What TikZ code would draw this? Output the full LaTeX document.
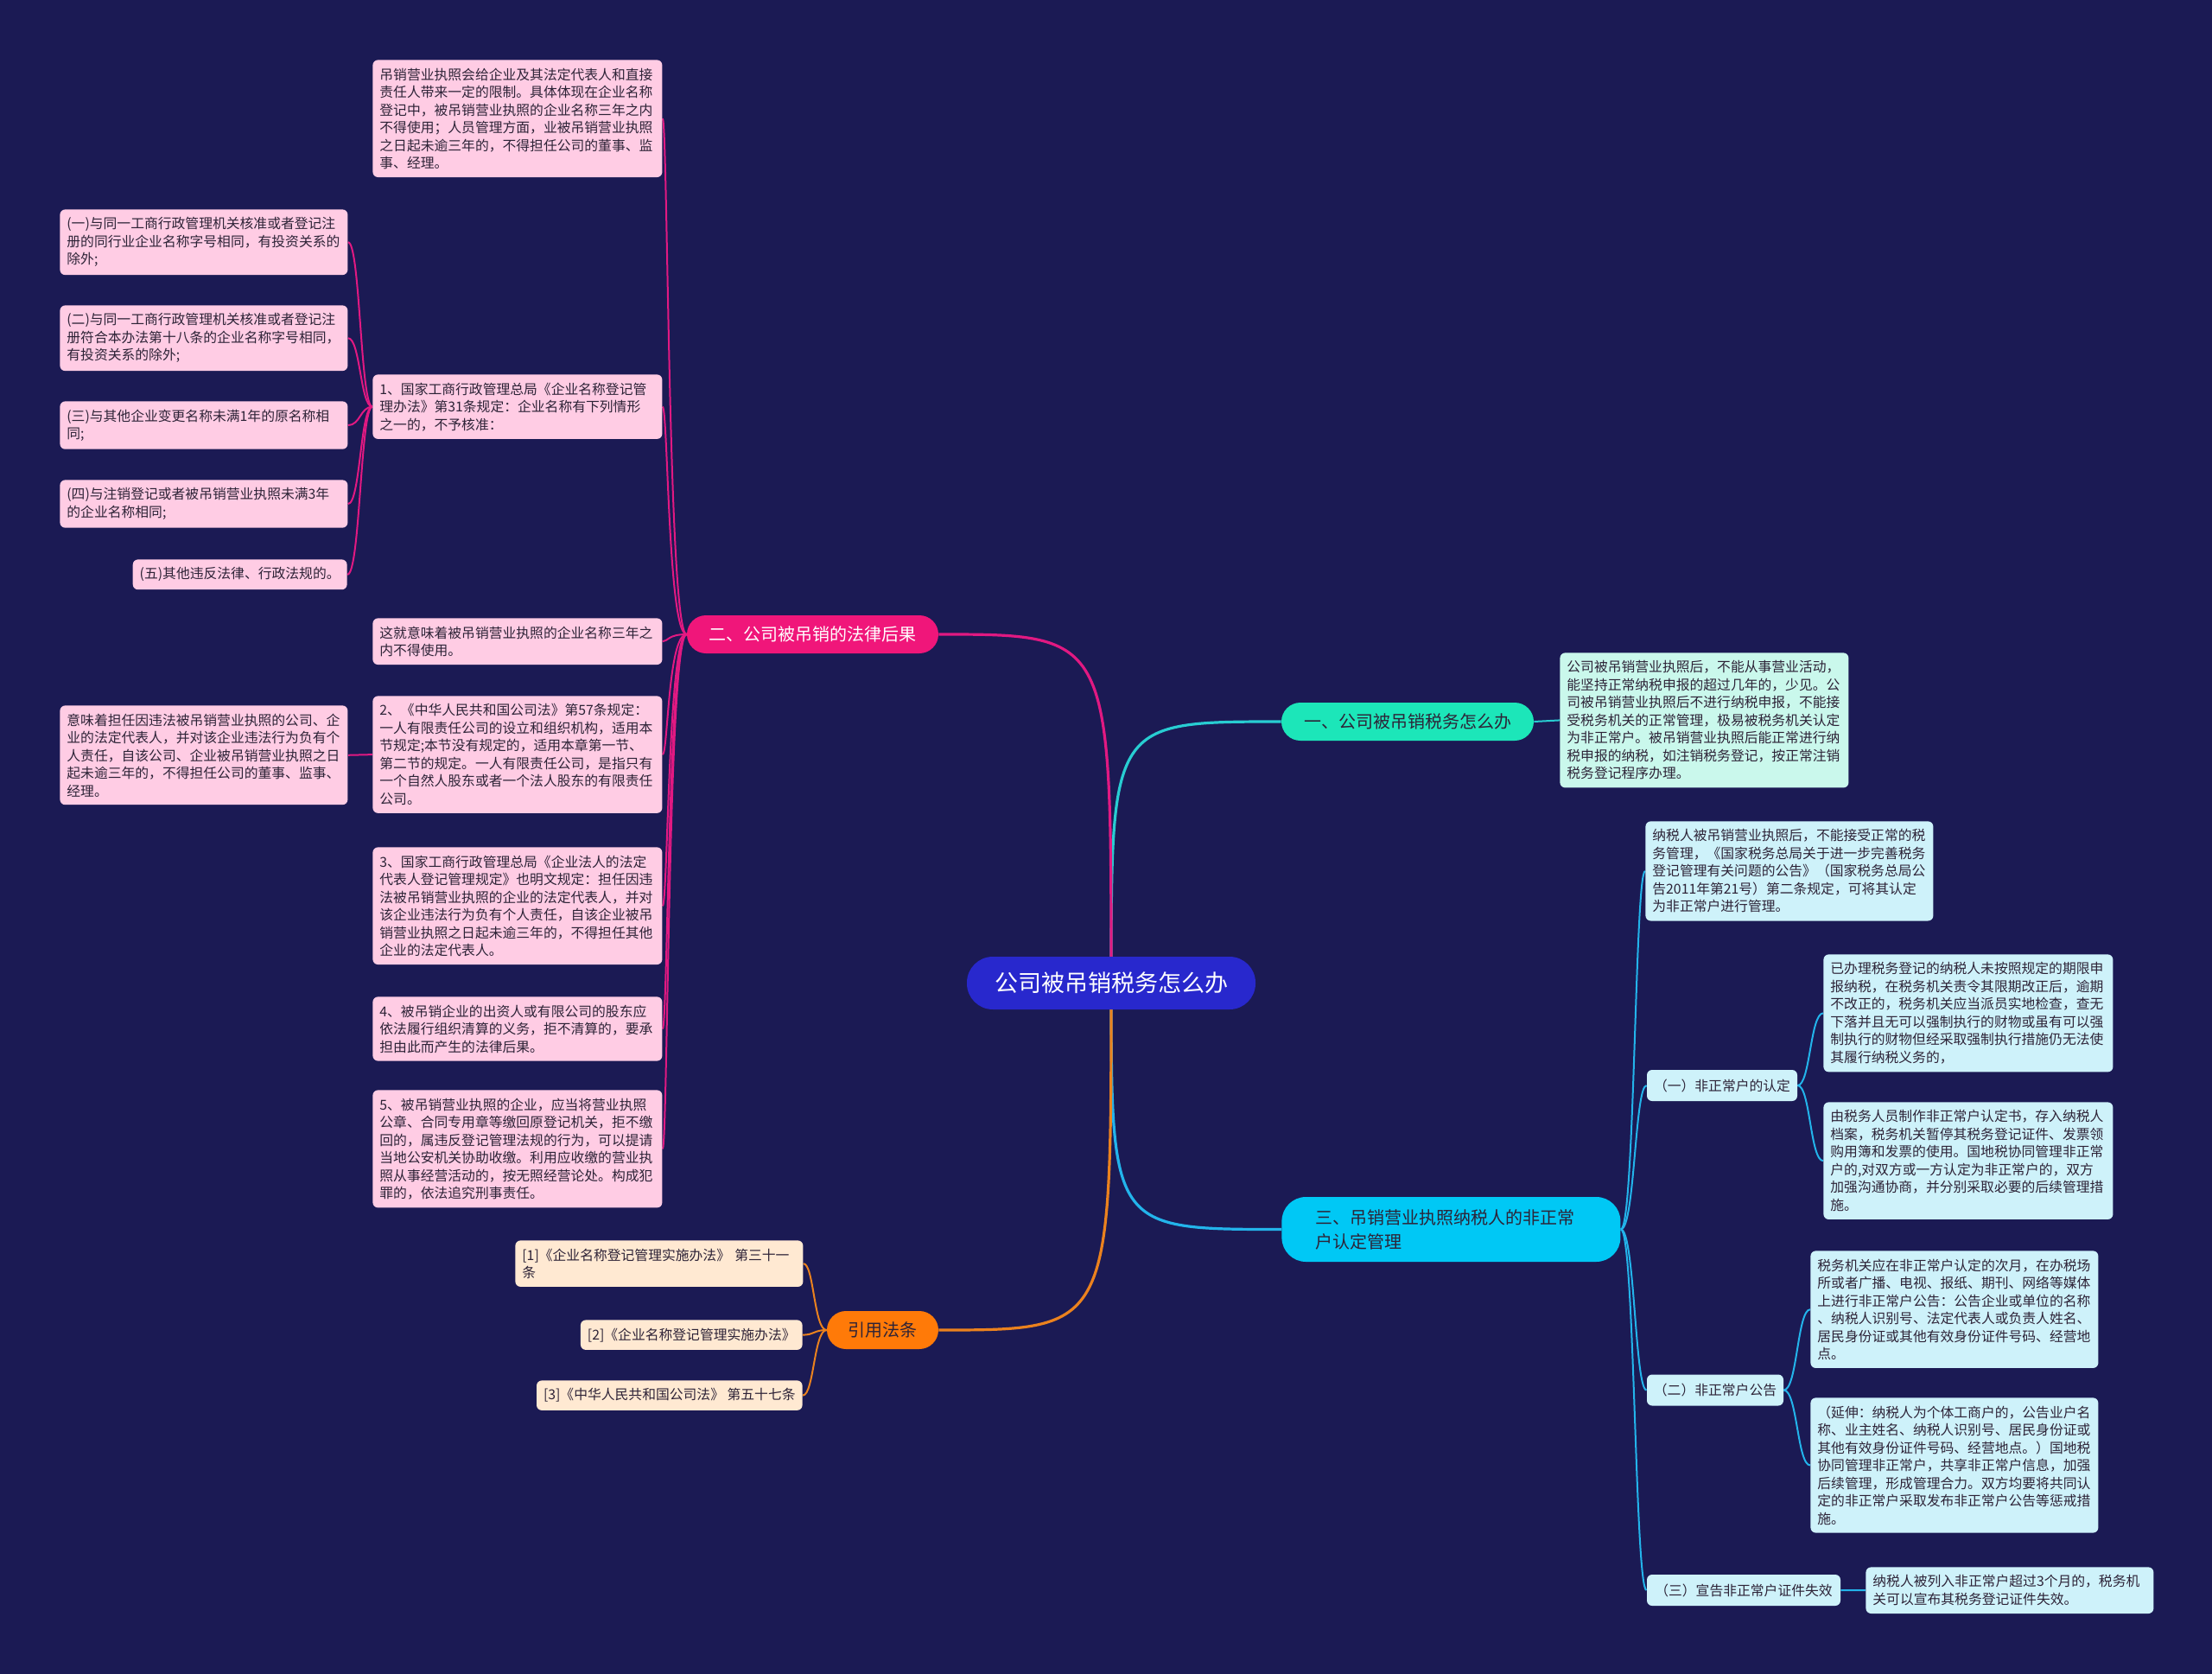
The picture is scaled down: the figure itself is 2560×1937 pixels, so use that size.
\documentclass[tikz,border=0pt]{standalone}
\usepackage{fontspec}
\setmainfont{Noto Sans CJK SC}
\usetikzlibrary{backgrounds}
\definecolor{bg}{RGB}{27,26,84}
\definecolor{cblue}{RGB}{40,40,205}
\definecolor{cmint}{RGB}{28,230,185}
\definecolor{cpink}{RGB}{240,22,122}
\definecolor{ccyan}{RGB}{0,200,245}
\definecolor{corange}{RGB}{255,122,8}
\definecolor{fpink}{RGB}{255,204,228}
\definecolor{fmint}{RGB}{202,248,236}
\definecolor{fcyan}{RGB}{206,242,250}
\definecolor{fcream}{RGB}{255,233,210}
\definecolor{lpink}{RGB}{225,25,130}
\definecolor{lteal}{RGB}{40,205,210}
\definecolor{lcyan}{RGB}{35,180,235}
\definecolor{lorange}{RGB}{235,130,30}
\definecolor{tdark}{RGB}{45,35,55}
\newcommand\mmcurve[4]{\draw[#1] (#2) .. controls (#2 -| #4) and (#3 -| #4) .. (#3);}
\begin{document}
\begin{tikzpicture}[x=0.5pt,y=-0.5pt,
  box/.style={rounded corners=3pt, inner xsep=4pt, inner ysep=4.6pt, align=left, text=tdark,
    font=\fontsize{7.9}{10.25}\selectfont, anchor=north west},
  pbox/.style={box, fill=fpink},
  mbox/.style={box, fill=fmint},
  cbox/.style={box, fill=fcyan},
  obox/.style={box, fill=fcream},
  subnode/.style={rounded corners=3pt, fill=fcyan, text=tdark, inner sep=0pt,
    font=\fontsize{7.9}{10.25}\selectfont, minimum height=18pt},
  branch/.style={rounded corners=11pt, minimum height=22pt, inner sep=0pt,
    font=\fontsize{10}{14}\selectfont},
  conn/.style={line width=1pt},
  mainconn/.style={line width=1.6pt}
]
\useasboundingbox (0,0) rectangle (2560,1937);

% center
\node[fill=cblue, text=white, rounded corners=15pt, minimum width=167pt, minimum height=30.5pt,
  inner sep=0pt, font=\fontsize{13.5}{16}\selectfont] (c) at (1286,1137.5) {公司被吊销税务怎么办};

% branches
\node[branch, fill=cmint, text=tdark, minimum width=146pt] (b1) at (1629,835) {一、公司被吊销税务怎么办};
\node[branch, fill=cpink, text=white, minimum width=145.5pt] (b2) at (940.5,734) {二、公司被吊销的法律后果};
\node[branch, fill=ccyan, text=tdark, rounded corners=14pt, minimum width=196pt, minimum height=37.5pt,
  text width=157pt, inner xsep=19.5pt, align=left, anchor=west] (b3) at (1483,1422.5) {三、吊销营业执照纳税人的非正常\\户认定管理};
\node[branch, fill=corange, text=tdark, minimum width=64.5pt] (b4) at (1021.5,1539) {引用法条};

% branch 1 child
\node[mbox, text width=159pt] (t1) at (1805,755) {公司被吊销营业执照后，不能从事营业活动，\\能坚持正常纳税申报的超过几年的，少见。公\\司被吊销营业执照后不进行纳税申报，不能接\\受税务机关的正常管理，极易被税务机关认定\\为非正常户。被吊销营业执照后能正常进行纳\\税申报的纳税，如注销税务登记，按正常注销\\税务登记程序办理。};

% branch 2 children
\node[pbox, text width=159.5pt] (p1) at (431,69) {吊销营业执照会给企业及其法定代表人和直接\\责任人带来一定的限制。具体体现在企业名称\\登记中，被吊销营业执照的企业名称三年之内\\不得使用；人员管理方面，业被吊销营业执照\\之日起未逾三年的，不得担任公司的董事、监\\事、经理。};
\node[pbox, text width=159.5pt] (p2) at (431,433) {1、国家工商行政管理总局《企业名称登记管\\理办法》第31条规定：企业名称有下列情形\\之一的，不予核准：};
\node[pbox, text width=159.5pt] (p3) at (431,715) {这就意味着被吊销营业执照的企业名称三年之\\内不得使用。};
\node[pbox, text width=159.5pt] (p4) at (431,805) {2、《中华人民共和国公司法》第57条规定：\\一人有限责任公司的设立和组织机构，适用本\\节规定;本节没有规定的，适用本章第一节、\\第二节的规定。一人有限责任公司，是指只有\\一个自然人股东或者一个法人股东的有限责任\\公司。};
\node[pbox, text width=159.5pt] (p5) at (431,980) {3、国家工商行政管理总局《企业法人的法定\\代表人登记管理规定》也明文规定：担任因违\\法被吊销营业执照的企业的法定代表人，并对\\该企业违法行为负有个人责任，自该企业被吊\\销营业执照之日起未逾三年的，不得担任其他\\企业的法定代表人。};
\node[pbox, text width=159.5pt] (p6) at (431,1153) {4、被吊销企业的出资人或有限公司的股东应\\依法履行组织清算的义务，拒不清算的，要承\\担由此而产生的法律后果。};
\node[pbox, text width=159.5pt] (p7) at (431,1261) {5、被吊销营业执照的企业，应当将营业执照\\公章、合同专用章等缴回原登记机关，拒不缴\\回的，属违反登记管理法规的行为，可以提请\\当地公安机关协助收缴。利用应收缴的营业执\\照从事经营活动的，按无照经营论处。构成犯\\罪的，依法追究刑事责任。};

% left column
\node[pbox, text width=158.5pt] (l1) at (69,242) {(一)与同一工商行政管理机关核准或者登记注\\册的同行业企业名称字号相同，有投资关系的\\除外;};
\node[pbox, text width=158.5pt] (l2) at (69,353) {(二)与同一工商行政管理机关核准或者登记注\\册符合本办法第十八条的企业名称字号相同，\\有投资关系的除外;};
\node[pbox, text width=158.5pt] (l3) at (69,464) {(三)与其他企业变更名称未满1年的原名称相\\同;};
\node[pbox, text width=158.5pt] (l4) at (69,555) {(四)与注销登记或者被吊销营业执照未满3年\\的企业名称相同;};
\node[pbox, anchor=north east] (l5) at (402,647) {(五)其他违反法律、行政法规的。};
\node[pbox, text width=158.5pt] (l6) at (69,816) {意味着担任因违法被吊销营业执照的公司、企\\业的法定代表人，并对该企业违法行为负有个\\人责任，自该公司、企业被吊销营业执照之日\\起未逾三年的，不得担任公司的董事、监事、\\经理。};

% branch 3 children
\node[cbox, text width=158.5pt] (a) at (1904,950) {纳税人被吊销营业执照后，不能接受正常的税\\务管理，《国家税务总局关于进一步完善税务\\登记管理有关问题的公告》（国家税务总局公\\告2011年第21号）第二条规定，可将其认定\\为非正常户进行管理。};
\node[subnode, minimum width=87pt] (s1) at (1993,1256) {（一）非正常户的认定};
\node[subnode, minimum width=79pt] (s2) at (1985,1608.5) {（二）非正常户公告};
\node[subnode, minimum width=112pt] (s3) at (2018,1840) {（三）宣告非正常户证件失效};
\node[cbox, text width=159.5pt] (s1a) at (2110,1104) {已办理税务登记的纳税人未按照规定的期限申\\报纳税，在税务机关责令其限期改正后，逾期\\不改正的，税务机关应当派员实地检查，查无\\下落并且无可以强制执行的财物或虽有可以强\\制执行的财物但经采取强制执行措施仍无法使\\其履行纳税义务的，};
\node[cbox, text width=159.5pt] (s1b) at (2110,1275) {由税务人员制作非正常户认定书，存入纳税人\\档案，税务机关暂停其税务登记证件、发票领\\购用簿和发票的使用。国地税协同管理非正常\\户的,对双方或一方认定为非正常户的，双方\\加强沟通协商，并分别采取必要的后续管理措\\施。};
\node[cbox, text width=158.5pt] (s2a) at (2095,1447) {税务机关应在非正常户认定的次月，在办税场\\所或者广播、电视、报纸、期刊、网络等媒体\\上进行非正常户公告：公告企业或单位的名称\\、纳税人识别号、法定代表人或负责人姓名、\\居民身份证或其他有效身份证件号码、经营地\\点。};
\node[cbox, text width=158.5pt] (s2b) at (2095,1617) {（延伸：纳税人为个体工商户的，公告业户名\\称、业主姓名、纳税人识别号、居民身份证或\\其他有效身份证件号码、经营地点。）国地税\\协同管理非正常户，共享非正常户信息，加强\\后续管理，形成管理合力。双方均要将共同认\\定的非正常户采取发布非正常户公告等惩戒措\\施。};
\node[cbox, text width=158.5pt] (s3a) at (2159,1813) {纳税人被列入非正常户超过3个月的，税务机\\关可以宣布其税务登记证件失效。};

% branch 4 children
\node[obox, text width=158.5pt] (o1) at (596,1435) {[1]《企业名称登记管理实施办法》 第三十一\\条};
\node[obox, anchor=north east] (o2) at (929,1527) {[2]《企业名称登记管理实施办法》};
\node[obox, anchor=north east] (o3) at (929,1597) {[3]《中华人民共和国公司法》 第五十七条};

% spine coordinates
\coordinate (sp2) at (773,0);
\coordinate (spq) at (417,0);
\coordinate (sp3) at (1892,0);
\coordinate (sps1) at (2095,0);
\coordinate (sps2) at (2080,0);
\coordinate (sp4) at (942,0);

\begin{scope}[on background layer]
\fill[bg] (0,0) rectangle (2560,1937);
% main curves
\draw[mainconn, lteal] (c.center) .. controls (c.center |- b1.west) and (c.center |- b1.west) .. (b1.west);
\draw[mainconn, lcyan] (c.center) .. controls (c.center |- b3.west) and (c.center |- b3.west) .. (b3.west);
\draw[mainconn, lpink] (c.center) .. controls (c.center |- b2.east) and (c.center |- b2.east) .. (b2.east);
\draw[mainconn, lorange] (c.center) .. controls (c.center |- b4.east) and (c.center |- b4.east) .. (b4.east);
% branch 1
\draw[conn, lteal] (b1.east) -- (t1.west);
% branch 2
\mmcurve{conn, lpink}{b2.west}{p1.east}{sp2}
\mmcurve{conn, lpink}{b2.west}{p2.east}{sp2}
\mmcurve{conn, lpink}{b2.west}{p3.east}{sp2}
\mmcurve{conn, lpink}{b2.west}{p4.east}{sp2}
\mmcurve{conn, lpink}{b2.west}{p5.east}{sp2}
\mmcurve{conn, lpink}{b2.west}{p6.east}{sp2}
\mmcurve{conn, lpink}{b2.west}{p7.east}{sp2}
\mmcurve{conn, lpink}{p2.west}{l1.east}{spq}
\mmcurve{conn, lpink}{p2.west}{l2.east}{spq}
\mmcurve{conn, lpink}{p2.west}{l3.east}{spq}
\mmcurve{conn, lpink}{p2.west}{l4.east}{spq}
\mmcurve{conn, lpink}{p2.west}{l5.east}{spq}
\draw[conn, lpink] (p4.west) -- (l6.east);
% branch 3
\mmcurve{conn, lcyan}{b3.east}{a.west}{sp3}
\mmcurve{conn, lcyan}{b3.east}{s1.west}{sp3}
\mmcurve{conn, lcyan}{b3.east}{s2.west}{sp3}
\mmcurve{conn, lcyan}{b3.east}{s3.west}{sp3}
\mmcurve{conn, lcyan}{s1.east}{s1a.west}{sps1}
\mmcurve{conn, lcyan}{s1.east}{s1b.west}{sps1}
\mmcurve{conn, lcyan}{s2.east}{s2a.west}{sps2}
\mmcurve{conn, lcyan}{s2.east}{s2b.west}{sps2}
\draw[conn, lcyan] (s3.east) -- (s3a.west);
% branch 4
\mmcurve{conn, lorange}{b4.west}{o1.east}{sp4}
\mmcurve{conn, lorange}{b4.west}{o2.east}{sp4}
\mmcurve{conn, lorange}{b4.west}{o3.east}{sp4}
\end{scope}
\end{tikzpicture}
\end{document}
